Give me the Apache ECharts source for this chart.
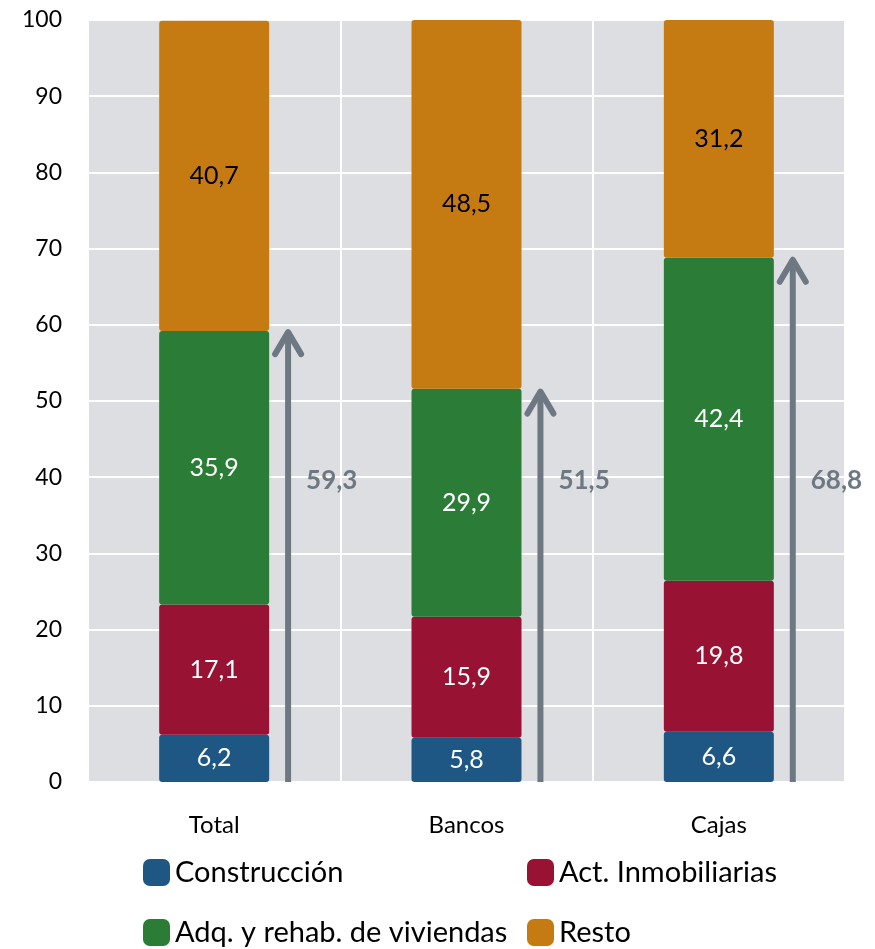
<!DOCTYPE html>
<html><head><meta charset="utf-8">
<script src="https://cdn.jsdelivr.net/npm/echarts@6/dist/echarts.min.js"></script>
<style>html,body{margin:0;padding:0;background:#fff}#c{width:875px;height:949px}</style>
</head><body><div id="c"></div>
<script>
var categories = ['Total', 'Bancos', 'Cajas'];
var construccion = [6.2, 5.8, 6.6];
var actInmobiliarias = [17.1, 15.9, 19.8];
var adqViviendas = [35.9, 29.9, 42.4];
var resto = [40.7, 48.5, 31.2];
var totals = [59.3, 51.5, 68.8];
var yTicks = {min: 0, max: 100, interval: 10};

var FONT = 'Lato';
function fmt(v){ return String(v).replace('.', ','); }

function barSeries(name, data, color, labelColor){
  return {
    name: name, type: 'bar', stack: 'a', data: data, barWidth: 110,
    itemStyle: {color: color, borderRadius: 3},
    label: {show: true, position: 'inside', fontFamily: FONT, fontSize: 25, color: labelColor,
      formatter: function(p){ return fmt(p.value); }},
    emphasis: {disabled: true}
  };
}

function legendItem(name, left, top){
  return {left: left, top: top, padding: 0, itemWidth: 27, itemHeight: 27, icon: 'roundRect',
    data: [name], textStyle: {fontFamily: FONT, fontSize: 29, lineHeight: 27, color: '#000'}};
}

var chart = echarts.init(document.getElementById('c'), null, {renderer: 'canvas'});
chart.setOption({
  animation: false,
  textStyle: {fontFamily: FONT},
  grid: {left: 88, right: 30, top: 20, bottom: 167, show: true, backgroundColor: '#dddee2', borderWidth: 0},
  xAxis: {
    type: 'category', data: categories,
    axisLine: {show: false}, axisTick: {show: false},
    axisLabel: {fontFamily: FONT, fontSize: 24, color: '#000', margin: 31},
    splitLine: {show: true, lineStyle: {color: '#ffffff', width: 2}}
  },
  yAxis: {
    type: 'value', min: yTicks.min, max: yTicks.max, interval: yTicks.interval,
    axisLine: {show: false}, axisTick: {show: false},
    axisLabel: {fontFamily: FONT, fontSize: 23, color: '#000', margin: 26},
    splitLine: {show: true, lineStyle: {color: '#ffffff', width: 2}}
  },
  legend: [
    legendItem('Construcción', 143, 858),
    legendItem('Act. Inmobiliarias', 527, 858),
    legendItem('Adq. y rehab. de viviendas', 143, 918),
    legendItem('Resto', 527, 918)
  ],
  series: [
    barSeries('Construcción', construccion, '#1e5784', '#ffffff'),
    barSeries('Act. Inmobiliarias', actInmobiliarias, '#981234', '#ffffff'),
    barSeries('Adq. y rehab. de viviendas', adqViviendas, '#2a7c36', '#ffffff'),
    barSeries('Resto', resto, '#c57b12', '#000000'),
    {
      type: 'custom', silent: true, z: 5,
      data: totals.map(function(v, i){ return [i, v]; }),
      encode: {x: 0, y: 1},
      renderItem: function(params, api){
        var idx = api.value(0), v = api.value(1);
        var base = api.coord([idx, 0]);
        var top = api.coord([idx, v]);
        var bw = api.size([1, 0])[0];
        var x = base[0] + bw * 0.293;
        var ly = api.coord([idx, 39.5])[1];
        var col = '#6d7883';
        return {type: 'group', children: [
          {type: 'line', shape: {x1: x, y1: base[1], x2: x, y2: top[1] + 3},
           style: {stroke: col, lineWidth: 6}},
          {type: 'polyline', shape: {points: [[x - 13, top[1] + 24], [x, top[1] + 2], [x + 13, top[1] + 24]]},
           style: {stroke: col, lineWidth: 6, lineCap: 'round', lineJoin: 'round', fill: null}},
          {type: 'text', style: {text: fmt(v), x: x + 18, y: ly, fill: col,
            fontFamily: FONT, fontWeight: 'bold', fontSize: 26, verticalAlign: 'middle', align: 'left'}}
        ]};
      }
    }
  ]
});
</script>
</body></html>
